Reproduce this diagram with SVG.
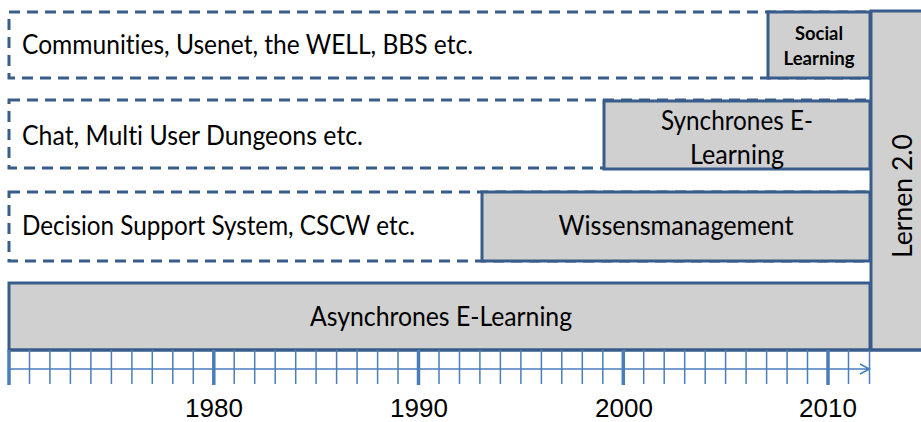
<svg xmlns="http://www.w3.org/2000/svg" width="921" height="422" viewBox="0 0 921 422">
<style>
.dash{fill:none;stroke:#385D8A;stroke-width:3;stroke-dasharray:11 7}
.box{fill:#D0D0D0;stroke:#385D8A;stroke-width:3}
.t{font-family:Lato,"Open Sans",sans-serif;font-size:26px;fill:#000;font-variant-ligatures:none}
.c{text-anchor:middle}
.b{font-weight:bold;font-size:19px}
.yr{font-family:"Liberation Sans",Arial,sans-serif;font-size:26px;fill:#000;text-anchor:middle}
.tk{stroke:#4A7EBB;stroke-width:1.5;fill:none}
.tkb{stroke:#4A7EBB;stroke-width:3.5;fill:none}
</style>
<rect width="921" height="422" fill="#fff"/>
<g id="row-communities">
<rect class="dash" x="9" y="12" width="861" height="66"/>
<text class="t" x="22" y="54" textLength="451" lengthAdjust="spacingAndGlyphs">Communities, Usenet, the WELL, BBS etc.</text>
</g>
<g id="row-chat">
<rect class="dash" x="9" y="100" width="861" height="68"/>
<text class="t" x="22" y="145" textLength="341" lengthAdjust="spacingAndGlyphs">Chat, Multi User Dungeons etc.</text>
</g>
<g id="row-decision">
<rect class="dash" x="9" y="192" width="861" height="69"/>
<text class="t" x="22" y="235" textLength="393" lengthAdjust="spacingAndGlyphs">Decision Support System, CSCW etc.</text>
</g>
<g id="social-learning">
<rect class="box" x="768" y="12" width="102" height="66"/>
<text class="t c b" x="819" y="40" textLength="48" lengthAdjust="spacingAndGlyphs">Social</text>
<text class="t c b" x="819" y="65" textLength="71" lengthAdjust="spacingAndGlyphs">Learning</text>
</g>
<g id="synchrones">
<rect class="box" x="604" y="101" width="266" height="68"/>
<text class="t c" x="737" y="130" textLength="152" lengthAdjust="spacingAndGlyphs">Synchrones E-</text>
<text class="t c" x="737" y="164" textLength="94" lengthAdjust="spacingAndGlyphs">Learning</text>
</g>
<g id="wissensmanagement">
<rect class="box" x="482" y="192" width="388" height="69"/>
<text class="t c" x="676" y="235" textLength="235" lengthAdjust="spacingAndGlyphs">Wissensmanagement</text>
</g>
<g id="asynchrones">
<rect class="box" x="9" y="283" width="861" height="67"/>
<text class="t c" x="441" y="326" textLength="262" lengthAdjust="spacingAndGlyphs">Asynchrones E-Learning</text>
</g>
<g id="lernen">
<rect class="box" x="871" y="11" width="60" height="339"/>
<text class="t c" transform="translate(912 196) rotate(-90)" x="0" y="0" textLength="124" lengthAdjust="spacingAndGlyphs">Lernen 2.0</text>
</g>
<g id="axis">
<line x1="9" y1="350" x2="921" y2="350" stroke="#385D8A" stroke-width="3"/>
<path class="tk" d="M29.5 350V384M49.9 350V384M70.4 350V384M90.9 350V384M111.4 350V384M131.9 350V384M152.3 350V384M172.8 350V384M193.3 350V384M234.2 350V384M254.7 350V384M275.2 350V384M295.7 350V384M316.1 350V384M336.6 350V384M357.1 350V384M377.6 350V384M398 350V384M439 350V384M459.5 350V384M479.9 350V384M500.4 350V384M520.9 350V384M541.4 350V384M561.8 350V384M582.3 350V384M602.8 350V384M643.7 350V384M664.2 350V384M684.7 350V384M705.2 350V384M725.6 350V384M746.1 350V384M766.6 350V384M787.1 350V384M807.5 350V384M848.5 350V384M869.5 350V384"/>
<path class="tkb" d="M9 350V385M213.8 350V385M418.5 350V385M623.3 350V385M828 350V385"/>
<path class="tk" d="M9 369H869M860 364L869.5 369L860 374"/>
<text class="yr" x="214" y="417">1980</text>
<text class="yr" x="419" y="417">1990</text>
<text class="yr" x="624" y="417">2000</text>
<text class="yr" x="828" y="417">2010</text>
</g>
</svg>
